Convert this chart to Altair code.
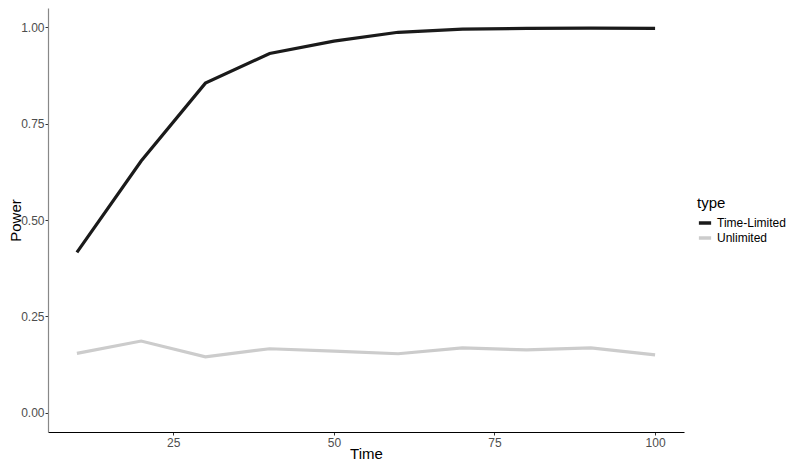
import altair as alt
import pandas as pd

time = [10, 20, 30, 40, 50, 60, 70, 80, 90, 100]
time_limited = [0.416, 0.653, 0.855, 0.932, 0.964, 0.987, 0.995, 0.997, 0.998, 0.997]
unlimited = [0.154, 0.186, 0.145, 0.166, 0.160, 0.153, 0.168, 0.163, 0.168, 0.150]
types = ["Time-Limited", "Unlimited"]
colors = ["#1a1a1a", "#cccccc"]

rows = []
for t, a, b in zip(time, time_limited, unlimited):
    rows.append({"Time": t, "Power": a, "type": types[0]})
    rows.append({"Time": t, "Power": b, "type": types[1]})
df = pd.DataFrame(rows)

FONT = "Liberation Sans"

chart = alt.Chart(df).mark_line(strokeWidth=3.2).encode(
    x=alt.X("Time:Q",
            scale=alt.Scale(domain=[5.5, 104.5], nice=False, zero=False),
            axis=alt.Axis(values=[25, 50, 75, 100], grid=False, domainColor="#000000",
                          domainWidth=1.2, tickColor="#333333", tickSize=3,
                          labelColor="#4d4d4d", labelFontSize=12, labelPadding=2,
                          labelFont=FONT, titleFont=FONT,
                          titleFontSize=15, titleColor="#000000", titleFontWeight="normal",
                          titleY=14, titleBaseline="top")),
    y=alt.Y("Power:Q",
            scale=alt.Scale(domain=[-0.05, 1.05], nice=False, zero=False),
            axis=alt.Axis(values=[0, 0.25, 0.5, 0.75, 1.0], format=".2f", grid=False,
                          domainColor="#888888", domainWidth=1.2, tickColor="#333333",
                          tickSize=3, labelColor="#4d4d4d", labelFontSize=12,
                          labelFont=FONT, titleFont=FONT,
                          labelPadding=1, titleFontSize=15, titleColor="#000000",
                          titleFontWeight="normal", titleX=-28, titleY=212,
                          titleAngle=270, titleBaseline="alphabetic", titleAlign="center")),
    color=alt.Color("type:N",
                    scale=alt.Scale(domain=types, range=colors),
                    legend=alt.Legend(title="type", orient="none", legendX=649, legendY=188,
                                      titleFontSize=15, titleFontWeight="normal",
                                      titleColor="#000000", labelFontSize=12,
                                      titleFont=FONT, labelFont=FONT,
                                      labelColor="#000000", symbolType="stroke",
                                      symbolStrokeWidth=3.5, symbolSize=150,
                                      rowPadding=0, titlePadding=4)),
).properties(
    width=636, height=424,
    autosize=alt.AutoSizeParams(type="none"),
    padding={"left": 40, "top": 0, "right": 108, "bottom": 29},
).configure(font=FONT).configure_view(stroke=None)

chart.save("out.html", embed_options={"renderer": "svg", "actions": False})
